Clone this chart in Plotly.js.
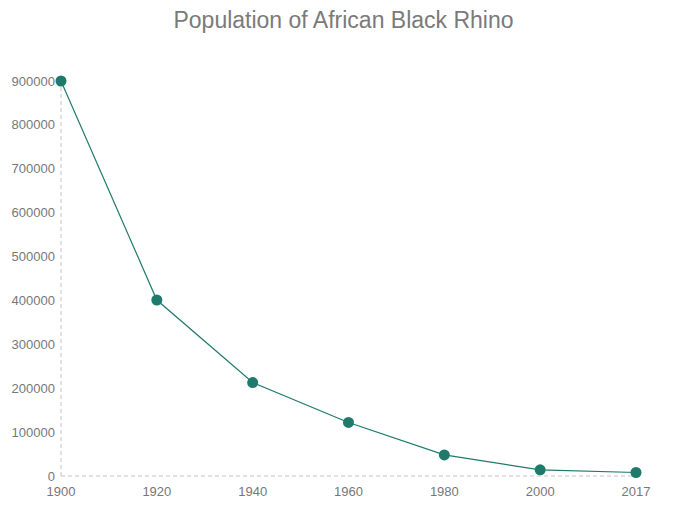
<!DOCTYPE html>
<html>
<head>
<meta charset="utf-8">
<script src="https://cdn.plot.ly/plotly-3.0.1.min.js"></script>
<style>html,body{margin:0;padding:0;background:#fff;}#chart{width:687px;height:511px;}</style>
</head>
<body>
<div id="chart"></div>
<script>
var years = ["1900", "1920", "1940", "1960", "1980", "2000", "2017"];
var population = [900000, 401000, 213000, 122000, 48000, 14000, 8000];
var titleText = "Population of African Black Rhino";
var yTicks = [0, 100000, 200000, 300000, 400000, 500000, 600000, 700000, 800000, 900000];

var trace = {
  x: years,
  y: population,
  type: "scatter",
  mode: "lines+markers",
  line: {color: "#1f7a6c", width: 1.2},
  marker: {color: "#1f7a6c", size: 11},
  cliponaxis: false,
  hoverinfo: "x+y"
};

var layout = {
  width: 687,
  height: 511,
  margin: {l: 61, r: 51, t: 81, b: 35},
  paper_bgcolor: "#fff",
  plot_bgcolor: "#fff",
  font: {family: "Liberation Sans, Arial, sans-serif", color: "#777", size: 13},
  title: {text: titleText, font: {size: 23, color: "#7a7a7a", family: "Liberation Sans, Arial, sans-serif"}, x: 0.5, xanchor: "center", y: 0.96, yanchor: "middle"},
  showlegend: false,
  xaxis: {
    type: "category",
    range: [0, 6],
    showgrid: false,
    zeroline: false,
    showline: false,
    ticks: "",
    ticklabelstandoff: 6,
    tickfont: {size: 13, color: "#777"},
    fixedrange: true
  },
  yaxis: {
    range: [0, 900000],
    tickvals: yTicks,
    ticktext: yTicks.map(String),
    showgrid: false,
    zeroline: false,
    showline: false,
    ticks: "",
    ticklabelstandoff: 5,
    tickfont: {size: 13, color: "#777"},
    fixedrange: true
  },
  shapes: [
    {type: "line", xref: "paper", yref: "paper", x0: 0, x1: 1, y0: 0, y1: 0, line: {color: "#c4c4c4", width: 1, dash: "4px,3px"}, layer: "below"},
    {type: "line", xref: "paper", yref: "paper", x0: 0, x1: 0, y0: 0, y1: 1, line: {color: "#c4c4c4", width: 1, dash: "4px,3px"}, layer: "below"}
  ]
};

Plotly.newPlot("chart", [trace], layout, {displayModeBar: false, staticPlot: true});
</script>
</body>
</html>
